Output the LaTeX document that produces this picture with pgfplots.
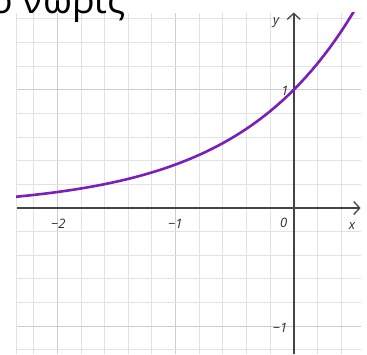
\documentclass[border=0pt]{standalone}
\usepackage{fontspec}
\setmainfont{Open Sans}
\usepackage{pgfplots}
\pgfplotsset{compat=1.18}
\usetikzlibrary{arrows.meta}
\definecolor{curve}{RGB}{122,31,185}
\definecolor{axisgray}{RGB}{68,68,68}
\definecolor{gridminor}{RGB}{226,226,226}
\definecolor{gridmajor}{RGB}{205,205,205}
\definecolor{labelgray}{RGB}{45,45,45}
\begin{document}
\begin{tikzpicture}
\begin{axis}[
  x=118.2pt, y=118.2pt,
  xmin=-2.349, xmax=0.566, ymin=-1.235, ymax=1.654,
  axis lines=middle,
  axis line style={axisgray, line width=1.6pt},
  x axis line style={-{Straight Barb[length=6pt,width=13pt,line width=1.3pt]}},
  y axis line style={-{Straight Barb[length=6pt,width=13pt,line width=1.3pt]}},
  xtick={-3,-2,-1,0,1}, ytick={-2,-1,0,1,2},
  minor tick num=4,
  xticklabels={}, yticklabels={},
  major tick style={draw=none}, minor tick style={draw=none},
  grid=both,
  major grid style={gridmajor, line width=0.9pt},
  minor grid style={gridminor, line width=0.9pt},
  clip=false,
]
\draw[gridminor, line width=0.9pt] (axis cs:-2.349,-1.235) -- (axis cs:-2.349,1.654);
\begin{scope}
\clip (axis cs:-2.349,-1.235) rectangle (axis cs:0.566,1.654);
\addplot[curve, line width=2.6pt, line cap=round, line join=round] coordinates {
(-2.35,0.0954) (-2.30,0.1003) (-2.25,0.1054) (-2.20,0.1108) (-2.15,0.1165)
(-2.10,0.1225) (-2.05,0.1287) (-2.00,0.1353) (-1.95,0.1423) (-1.90,0.1496)
(-1.85,0.1572) (-1.80,0.1653) (-1.75,0.1738) (-1.70,0.1827) (-1.65,0.1920)
(-1.60,0.2019) (-1.55,0.2122) (-1.50,0.2231) (-1.45,0.2346) (-1.40,0.2466)
(-1.35,0.2592) (-1.30,0.2725) (-1.25,0.2865) (-1.20,0.3012) (-1.15,0.3166)
(-1.10,0.3329) (-1.05,0.3499) (-1.00,0.3679) (-0.95,0.3867) (-0.90,0.4066)
(-0.85,0.4274) (-0.80,0.4493) (-0.75,0.4724) (-0.70,0.4966) (-0.65,0.5220)
(-0.60,0.5488) (-0.55,0.5769) (-0.50,0.6065) (-0.45,0.6376) (-0.40,0.6703)
(-0.35,0.7047) (-0.30,0.7408) (-0.25,0.7788) (-0.20,0.8187) (-0.15,0.8607)
(-0.10,0.9048) (-0.05,0.9512) (0.00,1.0000) (0.05,1.0513) (0.10,1.1052)
(0.15,1.1618) (0.20,1.2214) (0.25,1.2840) (0.30,1.3499) (0.35,1.4191)
(0.40,1.4918) (0.45,1.5683) (0.50,1.6487) (0.52,1.6820)
};
\end{scope}
% axis labels
\begin{scope}[every node/.style={font=\fontsize{13}{13}\selectfont\itshape, text=labelgray, inner sep=0pt}]
\node at (axis cs:-1.991,-0.135) {−2};
\node at (axis cs:-1.002,-0.135) {−1};
\node at (axis cs:-0.085,-0.124) {0};
\node at (axis cs:0.493,-0.152) {x};
\node at (axis cs:-0.150,1.568) {y};
\node at (axis cs:-0.074,0.990) {1};
\node at (axis cs:-0.116,-1.015) {−1};
\end{scope}
% heading text running above the grid
\node[anchor=base west, font=\fontsize{37.5}{37.5}\selectfont, inner sep=0pt, text=black]
  at (axis cs:-2.566,1.648) {ο νωρίς};
\coordinate (BL) at (axis cs:-2.485,-1.235);
\coordinate (TR) at (axis cs:0.620,1.760);
\end{axis}
\pgfresetboundingbox
\useasboundingbox (BL) rectangle (TR);
\end{tikzpicture}
\end{document}
